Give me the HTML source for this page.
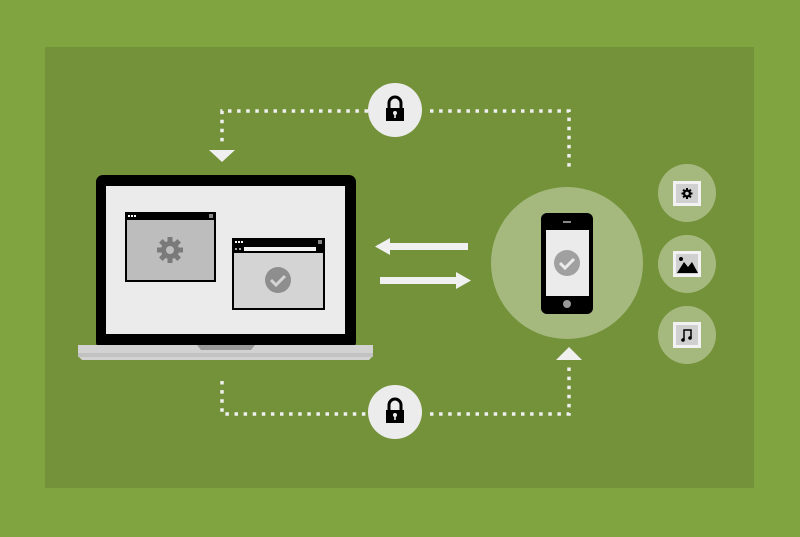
<!DOCTYPE html>
<html><head><style>
html,body{margin:0;padding:0;}
body{width:800px;height:532px;background:#80a540;overflow:hidden;}
</style></head><body>
<svg width="800" height="532" viewBox="0 0 800 532" xmlns="http://www.w3.org/2000/svg">
<rect x="0" y="0" width="800" height="532" fill="#80a540"/>
<rect x="45" y="47" width="709" height="441" fill="#74923a"/>
<!-- dotted connectors -->
<g stroke="#f0f0f0" stroke-width="3.5" fill="none" stroke-dasharray="3.5 5.6">
<path d="M368 111 H222 V146"/>
<path d="M430 111 H569 V172"/>
<path d="M222 381 V414 H369"/>
<path d="M430 414 H569 V362"/>
</g>
<polygon points="209,150 235,150 222,162" fill="#f0f0f0"/>
<polygon points="556,360 582,360 569,347" fill="#f0f0f0"/>
<!-- locks -->
<g>
<circle cx="395" cy="110" r="27" fill="#ececec"/>
<path d="M389 109 v-6 a6 6 0 0 1 12 0 v6" stroke="#000" stroke-width="3" fill="none"/>
<rect x="386" y="108" width="18" height="13" fill="#000"/>
<circle cx="395" cy="113" r="2" fill="#ececec"/><rect x="394.2" y="113" width="1.6" height="5" fill="#ececec"/>
</g>
<g>
<circle cx="395" cy="412" r="27" fill="#ececec"/>
<path d="M389 411 v-6 a6 6 0 0 1 12 0 v6" stroke="#000" stroke-width="3" fill="none"/>
<rect x="386" y="410" width="18" height="13" fill="#000"/>
<circle cx="395" cy="415" r="2" fill="#ececec"/><rect x="394.2" y="415" width="1.6" height="5" fill="#ececec"/>
</g>
<!-- laptop -->
<rect x="96" y="175" width="260" height="174" rx="7" fill="#000"/>
<rect x="106" y="186" width="239" height="148" fill="#ebebeb"/>
<path d="M78 345 H373 V356 L369 360 H82 L78 356 Z" fill="#d2d2d2"/>
<rect x="78" y="353" width="295" height="4" fill="#c2c2c2"/>
<path d="M197 345 H255 L251 350 H201 Z" fill="#9a9a9a"/>
<!-- window 1 -->
<rect x="125" y="212" width="91" height="70" fill="#000"/>
<rect x="127" y="220" width="87" height="60" fill="#bdbdbd"/>
<g fill="#fff"><rect x="128" y="215" width="2" height="2"/><rect x="131" y="215" width="2" height="2"/><rect x="134" y="215" width="2" height="2"/></g>
<rect x="209" y="214" width="4" height="4" fill="#888"/>
<g transform="translate(170,250)" fill="#7a7a7a">
<circle r="9"/>
<g><rect x="-2.5" y="-13" width="5" height="26"/><rect x="-13" y="-2.5" width="26" height="5"/>
<rect x="-2.5" y="-13" width="5" height="26" transform="rotate(45)"/><rect x="-2.5" y="-13" width="5" height="26" transform="rotate(-45)"/></g>
<circle r="4" fill="#bdbdbd"/>
</g>
<!-- window 2 -->
<rect x="232" y="238" width="93" height="72" fill="#000"/>
<rect x="234" y="253" width="89" height="55" fill="#d4d4d4"/>
<g fill="#fff"><rect x="235" y="241" width="2" height="2"/><rect x="238" y="241" width="2" height="2"/><rect x="241" y="241" width="2" height="2"/></g>
<rect x="318" y="240" width="4" height="4" fill="#888"/>
<rect x="244" y="247" width="72" height="4" fill="#f2f2f2"/>
<rect x="235" y="248" width="2" height="2" fill="#aaa"/><rect x="239" y="248" width="2" height="2" fill="#aaa"/>
<circle cx="278" cy="280" r="13" fill="#8e8e8e"/>
<path d="M271 280 l5 5 l9 -9" stroke="#d4d4d4" stroke-width="3" fill="none"/>
<!-- arrows -->
<rect x="387" y="243" width="81" height="7" fill="#f0f0f0"/>
<polygon points="375,246.5 390,238 390,255" fill="#f0f0f0"/>
<rect x="380" y="277" width="78" height="7" fill="#f0f0f0"/>
<polygon points="471,280.5 456,272 456,289" fill="#f0f0f0"/>
<!-- phone -->
<circle cx="567" cy="263" r="76" fill="#a5b97f"/>
<rect x="541" y="213" width="52" height="101" rx="6" fill="#000"/>
<rect x="546" y="230" width="43" height="66" fill="#ebebeb"/>
<rect x="563" y="221" width="8" height="2" fill="#888"/>
<circle cx="567" cy="304" r="4" fill="#999"/>
<circle cx="567" cy="263" r="13" fill="#a0a0a0"/>
<path d="M560 263 l5 5 l9 -9" stroke="#ebebeb" stroke-width="3" fill="none"/>
<!-- side circles -->
<circle cx="687" cy="193" r="29" fill="#a5b97f"/>
<circle cx="687" cy="264" r="29" fill="#a5b97f"/>
<circle cx="687" cy="335" r="29" fill="#a5b97f"/>
<g><rect x="673" y="181" width="28" height="25" fill="#f2f2f2"/><rect x="676" y="184" width="22" height="19" fill="#d0d0d0"/>
<g transform="translate(687,193.5)" fill="#000"><circle r="4"/><rect x="-1" y="-5.5" width="2" height="11"/><rect x="-5.5" y="-1" width="11" height="2"/><rect x="-1" y="-5.5" width="2" height="11" transform="rotate(45)"/><rect x="-1" y="-5.5" width="2" height="11" transform="rotate(-45)"/><circle r="1.8" fill="#d0d0d0"/></g></g>
<g><rect x="673" y="251" width="28" height="26" fill="#f2f2f2"/><rect x="676" y="254" width="22" height="20" fill="#d0d0d0"/>
<circle cx="681" cy="259" r="2" fill="#000"/><polygon points="677,273 684,262 688,267 692,262 698,273" fill="#000"/></g>
<g><rect x="673" y="322" width="28" height="26" fill="#f2f2f2"/><rect x="676" y="325" width="22" height="20" fill="#d0d0d0"/>
<path d="M684 340 V330 H691 V338" stroke="#000" stroke-width="1.5" fill="none"/><circle cx="683" cy="340" r="1.8" fill="#000"/><circle cx="690" cy="338" r="1.8" fill="#000"/></g>
</svg>
</body></html>
